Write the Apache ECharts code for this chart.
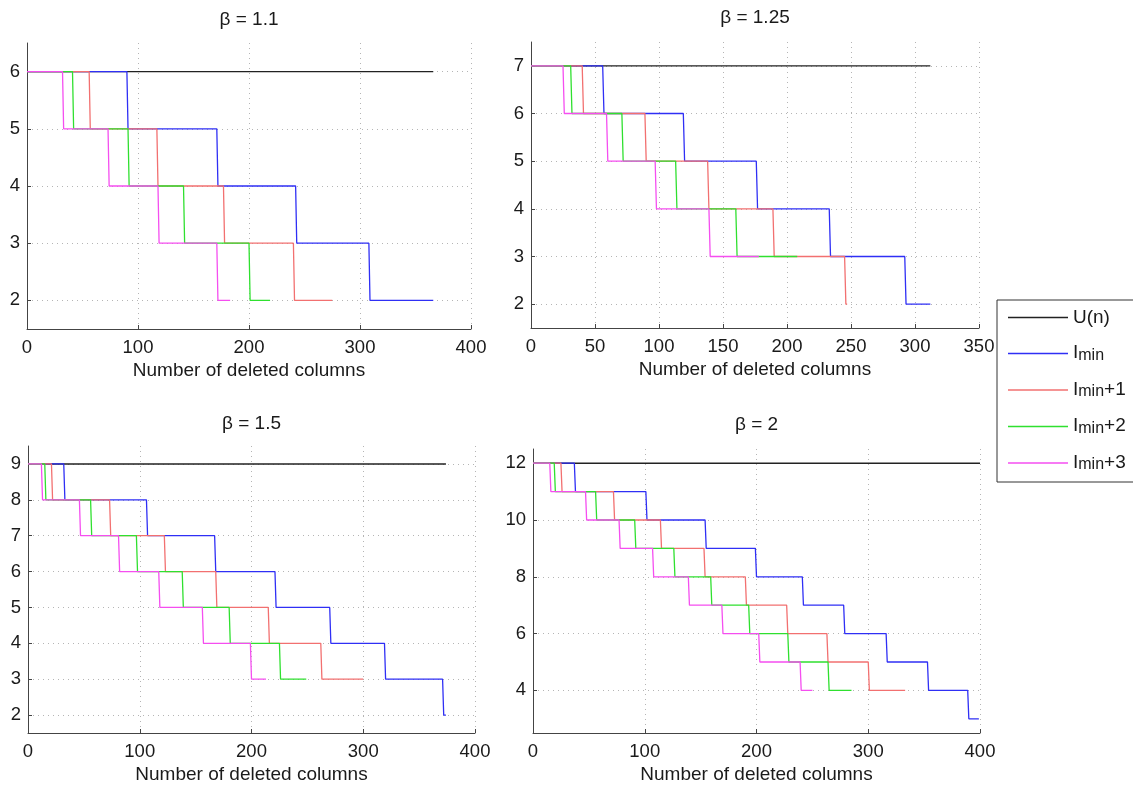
<!DOCTYPE html>
<html>
<head>
<meta charset="utf-8">
<title>Deleted columns vs. level</title>
<script src="https://cdn.jsdelivr.net/npm/echarts@6/dist/echarts.min.js"></script>
<style>
  html, body { margin: 0; padding: 0; background: #fff; }
  #chart { width: 1133px; height: 789px; }
</style>
</head>
<body>
<div id="chart"></div>
<script>
// Panel titles and their starting (top) level
const panelTitles = ['β = 1.1', 'β = 1.25', 'β = 1.5', 'β = 2'];
const topLevels = [6, 7, 9, 12];

// x-axis ranges and tick steps per panel
const xMax = [400, 350, 400, 400];
const xStep = [100, 50, 100, 100];

// y-axis ranges and tick labels per panel
const yMin = [1.5, 1.5, 1.5, 2.5];
const yMax = [6.5, 7.5, 9.5, 12.5];
const yTicks1 = [2, 3, 4, 5, 6];
const yTicks2 = [2, 3, 4, 5, 6, 7];
const yTicks3 = [2, 3, 4, 5, 6, 7, 8, 9];
const yTicks4 = [4, 6, 8, 10, 12];

// U(n): constant at the top level up to this n
const uEnd = [366, 312, 374, 400];

// For each curve: number of deleted columns at which each level ends
// (the level drops by one right after each entry; the last entry ends the curve)
// β = 1.1
const imin_1 = [90, 171, 242, 308, 366];
const imin1_1 = [56, 117, 177, 240, 275];
const imin2_1 = [41, 91, 141, 200, 219];
const imin3_1 = [32, 73, 118, 171, 183];
// β = 1.25
const imin_2 = [56, 119, 176, 233, 292, 312];
const imin1_2 = [40, 89, 138, 189, 245, 247];
const imin2_2 = [31, 71, 113, 160, 208];
const imin3_2 = [25, 59, 97, 139, 178];
// β = 1.5
const imin_3 = [32, 106, 167, 221, 270, 319, 371, 374];
const imin1_3 = [21, 73, 122, 168, 215, 262, 300];
const imin2_3 = [15, 56, 97, 138, 180, 225, 249];
const imin3_3 = [12, 46, 81, 117, 156, 199, 213];
// β = 2
const imin_4 = [37, 101, 154, 199, 241, 278, 316, 353, 389, 399];
const imin1_4 = [25, 72, 114, 153, 190, 227, 263, 300, 333];
const imin2_4 = [19, 56, 91, 126, 159, 193, 228, 264, 285];
const imin3_4 = [15, 47, 77, 107, 139, 169, 202, 239, 250];

const seriesNames = ['U(n)', 'I_min', 'I_min+1', 'I_min+2', 'I_min+3'];
const seriesColors = ['#222222', '#2f2ff5', '#f27070', '#2fe02f', '#f54ef0'];

const curves = [
  [imin_1, imin1_1, imin2_1, imin3_1],
  [imin_2, imin1_2, imin2_2, imin3_2],
  [imin_3, imin1_3, imin2_3, imin3_3],
  [imin_4, imin1_4, imin2_4, imin3_4]
];
const yTicks = [yTicks1, yTicks2, yTicks3, yTicks4];

// Turn a list of level end points into a staircase polyline
function staircase(ends, top) {
  const pts = [[0, top]];
  let level = top;
  ends.forEach((n, i) => {
    pts.push([n, level]);
    if (i < ends.length - 1) {
      level -= 1;
      pts.push([n + 1, level]);
    }
  });
  return pts;
}

// Plot area boxes (pixels)
const grids = [
  { left: 27, top: 43, width: 444, height: 286 },
  { left: 531, top: 42, width: 448, height: 286 },
  { left: 28, top: 446, width: 447, height: 287 },
  { left: 533, top: 449, width: 447, height: 284 }
];
const titleY = [20, 18, 424, 425];

const FONT = 'Liberation Sans, Arial, sans-serif';
const axisColor = '#444';
const textColor = '#1a1a1a';
const gridLine = { show: true, lineStyle: { color: '#b5b5b5', type: [1, 4], width: 1 } };

const xAxes = [], yAxes = [], series = [], graphics = [];
grids.forEach((g, p) => {
  xAxes.push({
    type: 'value', gridIndex: p, min: 0, max: xMax[p], interval: xStep[p],
    name: 'Number of deleted columns', nameLocation: 'middle', nameGap: 32,
    nameTextStyle: { fontFamily: FONT, fontSize: 19, color: textColor },
    axisLine: { show: true, lineStyle: { color: axisColor, width: 1 } },
    axisTick: { show: true, inside: true, length: 4, lineStyle: { color: axisColor } },
    axisLabel: { fontFamily: FONT, fontSize: 18.5, color: textColor, margin: 9, showMaxLabel: true },
    splitLine: gridLine
  });
  yAxes.push({
    type: 'value', gridIndex: p, min: yMin[p], max: yMax[p],
    axisLine: { show: true, lineStyle: { color: axisColor, width: 1 } },
    axisTick: { show: true, inside: true, length: 4, customValues: yTicks[p], lineStyle: { color: axisColor } },
    axisLabel: { fontFamily: FONT, fontSize: 18.5, color: textColor, margin: 7, customValues: yTicks[p] },
    splitLine: gridLine
  });

  const top = topLevels[p];
  series.push({
    name: seriesNames[0], type: 'line', xAxisIndex: p, yAxisIndex: p,
    data: [[0, top], [uEnd[p], top]],
    symbol: 'none', lineStyle: { width: 1.4, color: seriesColors[0] }, itemStyle: { color: seriesColors[0] }
  });
  curves[p].forEach((ends, k) => {
    series.push({
      name: seriesNames[k + 1], type: 'line', xAxisIndex: p, yAxisIndex: p,
      data: staircase(ends, top),
      symbol: 'none', lineStyle: { width: 1.3, color: seriesColors[k + 1] },
      itemStyle: { color: seriesColors[k + 1] }
    });
  });

  graphics.push({
    type: 'text', x: g.left + g.width / 2, y: titleY[p],
    style: { text: panelTitles[p], font: '19px ' + FONT, fill: textColor, textAlign: 'center', textVerticalAlign: 'middle' }
  });
});

const legendLabels = {
  'U(n)': '{u|U(n)}',
  'I_min': '{n|I}{s|min}',
  'I_min+1': '{n|I}{s|min}{n|+1}',
  'I_min+2': '{n|I}{s|min}{n|+2}',
  'I_min+3': '{n|I}{s|min}{n|+3}'
};

const chart = echarts.init(document.getElementById('chart'), null, { renderer: 'canvas' });
chart.setOption({
  animation: false,
  backgroundColor: '#fff',
  grid: grids,
  xAxis: xAxes,
  yAxis: yAxes,
  series: series,
  graphic: graphics,
  legend: {
    data: seriesNames,
    orient: 'vertical',
    left: 997, top: 300,
    padding: [8, 24, 9, 11],
    icon: 'rect',
    itemWidth: 60, itemHeight: 1.3, itemGap: 8.5,
    backgroundColor: '#fff',
    borderColor: '#333', borderWidth: 1,
    selectedMode: false,
    formatter: name => legendLabels[name],
    textStyle: {
      fontFamily: FONT, color: textColor, padding: [0, 0, 0, 0],
      rich: {
        u: { fontFamily: FONT, fontSize: 19, lineHeight: 20, color: textColor },
        n: { fontFamily: FONT, fontSize: 19, lineHeight: 20, verticalAlign: 'top', color: textColor },
        s: { fontFamily: FONT, fontSize: 16, lineHeight: 16, padding: [12, 0, 0, 0], verticalAlign: 'bottom', color: textColor }
      }
    }
  }
});
</script>
</body>
</html>
